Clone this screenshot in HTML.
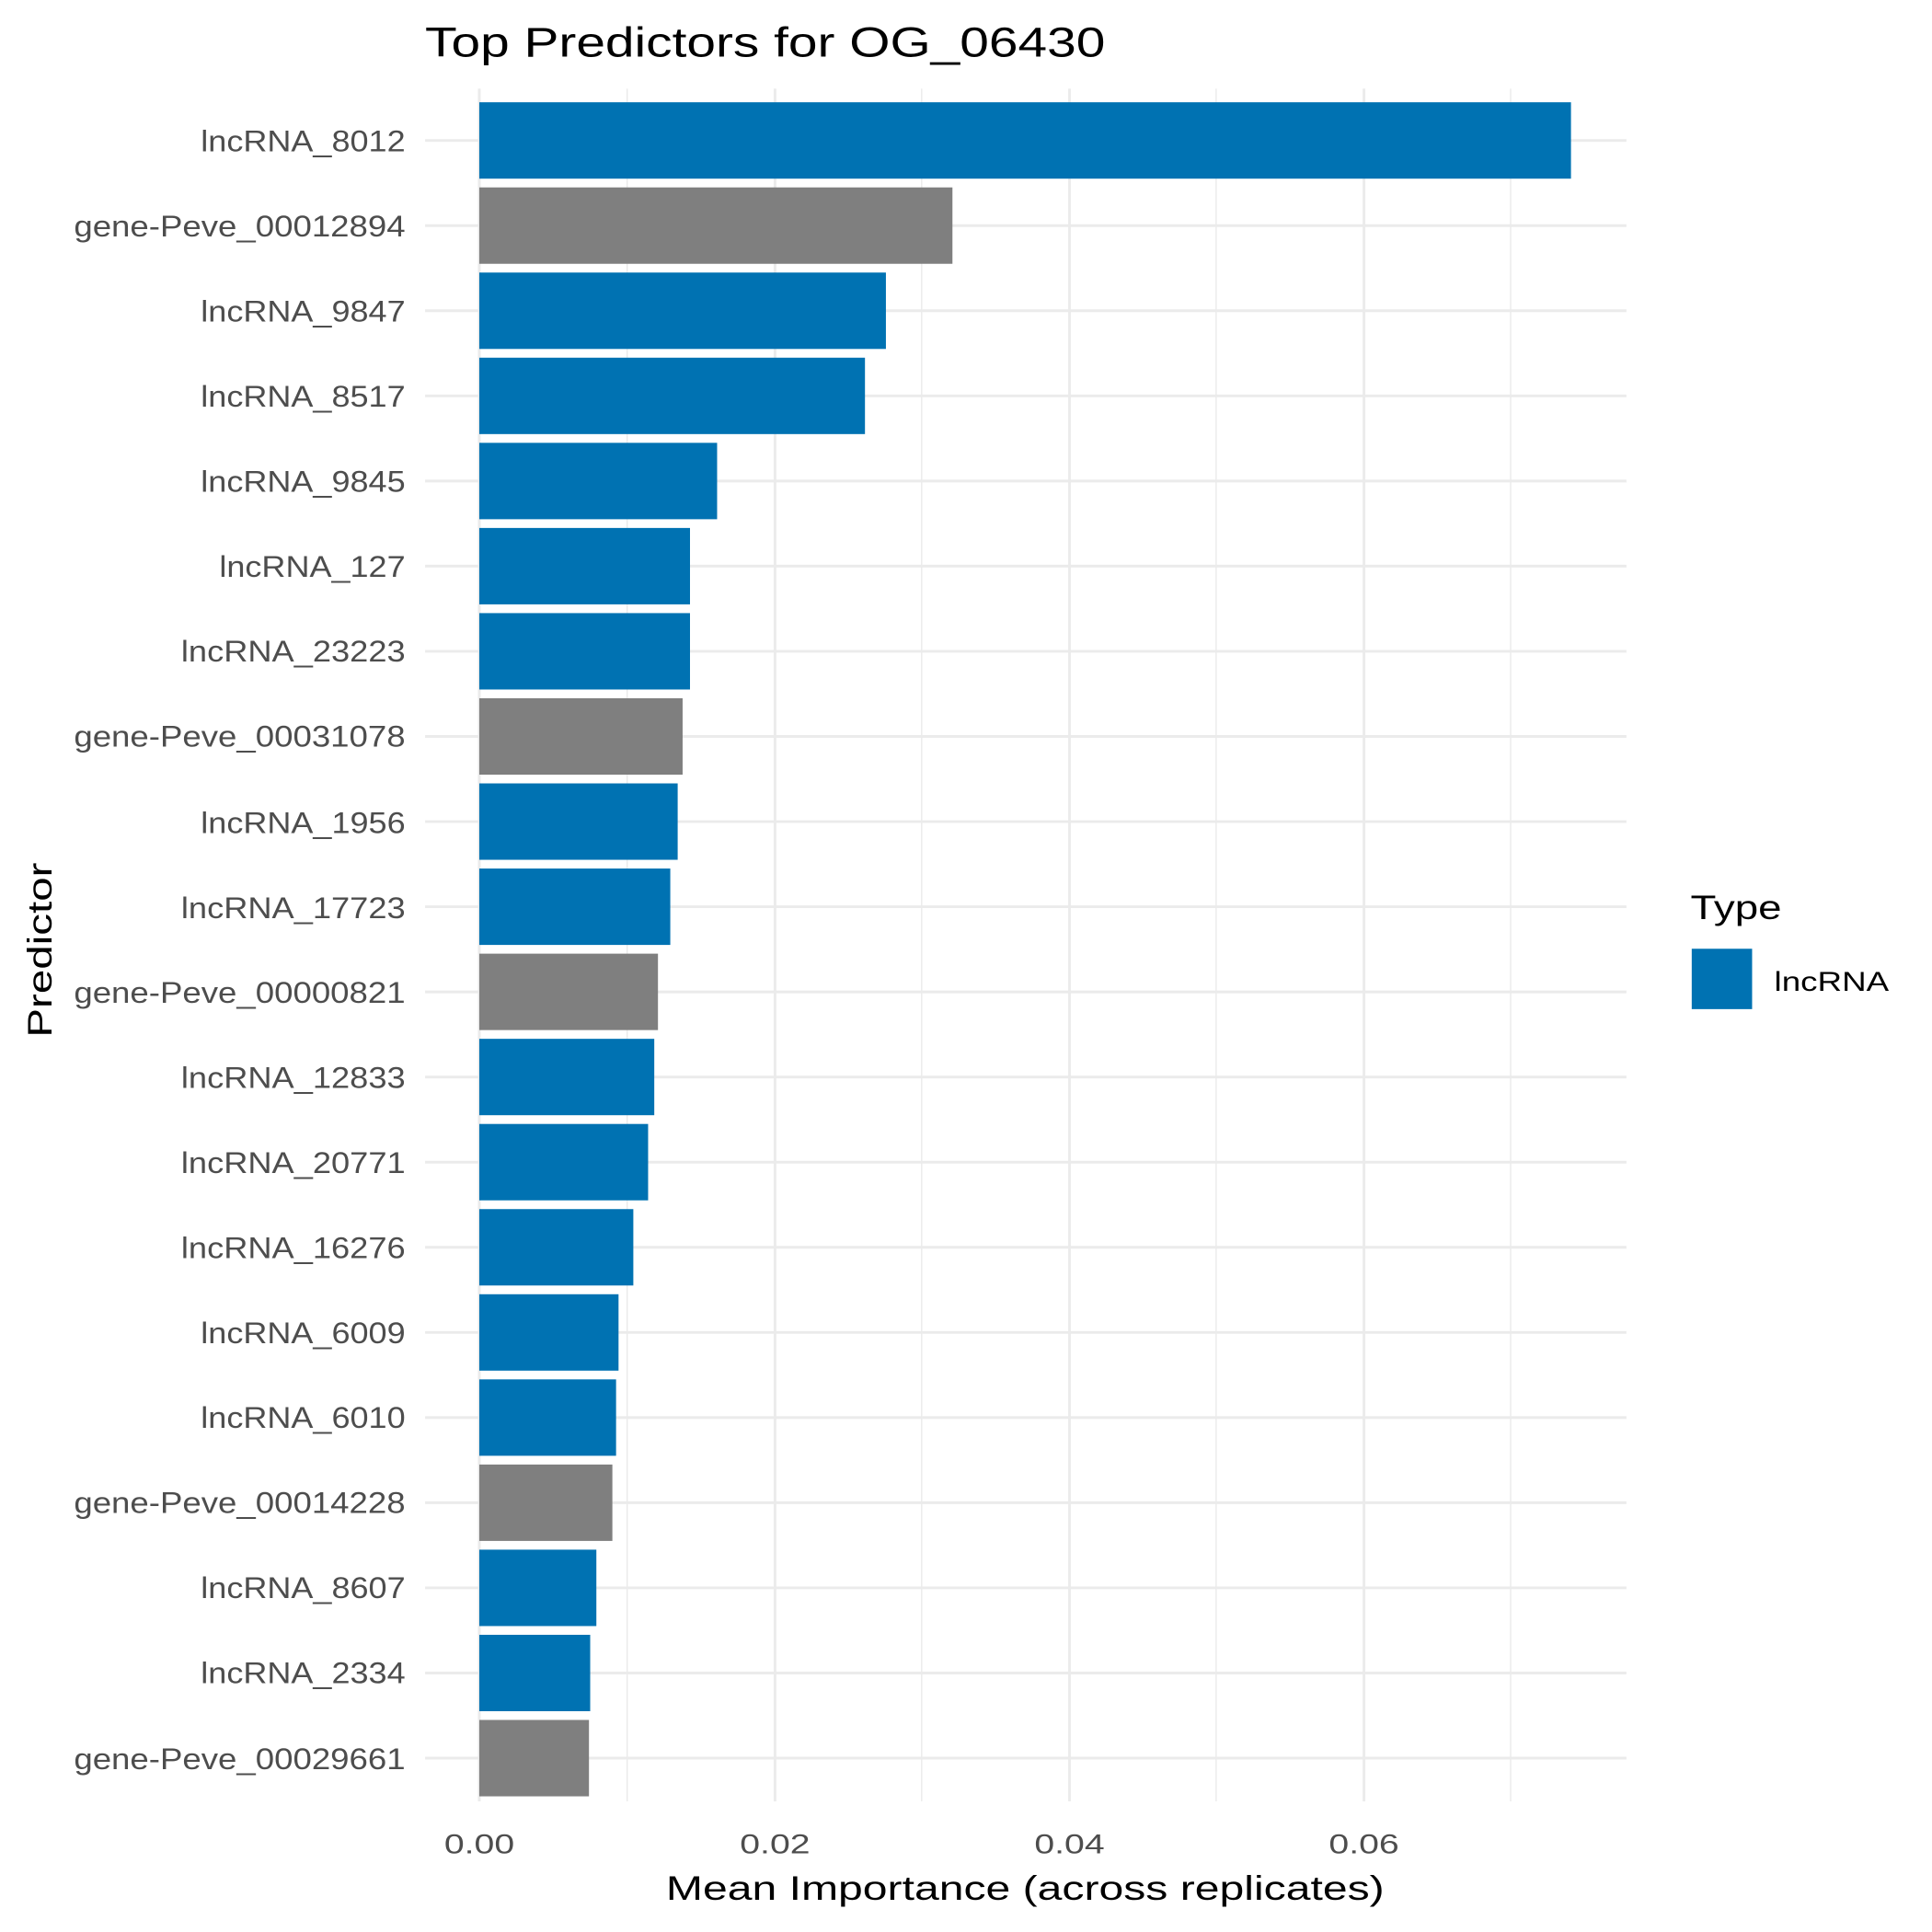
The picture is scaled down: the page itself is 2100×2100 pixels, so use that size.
<!DOCTYPE html>
<html><head><style>html,body{margin:0;padding:0;background:#fff}svg{display:block}</style></head>
<body>
<svg width="2100" height="2100" viewBox="0 0 1568 1568" xmlns="http://www.w3.org/2000/svg" font-family="'Liberation Sans', 'DejaVu Sans', sans-serif">
<rect width="1568" height="1568" fill="#fff"/>
<g stroke="#ebebeb" stroke-width="1.1">
<line x1="509" y1="72" x2="509" y2="1462"/><line x1="748" y1="72" x2="748" y2="1462"/><line x1="987" y1="72" x2="987" y2="1462"/><line x1="1226" y1="72" x2="1226" y2="1462"/>
</g>
<g stroke="#ebebeb" stroke-width="2.2">
<line x1="389" y1="72" x2="389" y2="1462"/><line x1="629" y1="72" x2="629" y2="1462"/><line x1="868" y1="72" x2="868" y2="1462"/><line x1="1107" y1="72" x2="1107" y2="1462"/>
<line x1="345" x2="1320" y1="114" y2="114"/><line x1="345" x2="1320" y1="183.1" y2="183.1"/><line x1="345" x2="1320" y1="252.2" y2="252.2"/><line x1="345" x2="1320" y1="321.3" y2="321.3"/><line x1="345" x2="1320" y1="390.4" y2="390.4"/><line x1="345" x2="1320" y1="459.5" y2="459.5"/><line x1="345" x2="1320" y1="528.6" y2="528.6"/><line x1="345" x2="1320" y1="597.7" y2="597.7"/><line x1="345" x2="1320" y1="666.8" y2="666.8"/><line x1="345" x2="1320" y1="735.9" y2="735.9"/><line x1="345" x2="1320" y1="805" y2="805"/><line x1="345" x2="1320" y1="874.1" y2="874.1"/><line x1="345" x2="1320" y1="943.2" y2="943.2"/><line x1="345" x2="1320" y1="1012.3" y2="1012.3"/><line x1="345" x2="1320" y1="1081.4" y2="1081.4"/><line x1="345" x2="1320" y1="1150.5" y2="1150.5"/><line x1="345" x2="1320" y1="1219.6" y2="1219.6"/><line x1="345" x2="1320" y1="1288.7" y2="1288.7"/><line x1="345" x2="1320" y1="1357.8" y2="1357.8"/><line x1="345" x2="1320" y1="1426.9" y2="1426.9"/>
</g>
<g fill="#0072b2">
<rect x="389" y="83" width="886" height="62"/>
<rect x="389" y="221.2" width="330" height="62"/>
<rect x="389" y="290.3" width="313" height="62"/>
<rect x="389" y="359.4" width="193" height="62"/>
<rect x="389" y="428.5" width="171" height="62"/>
<rect x="389" y="497.6" width="171" height="62"/>
<rect x="389" y="635.8" width="161" height="62"/>
<rect x="389" y="704.9" width="155" height="62"/>
<rect x="389" y="843.1" width="142" height="62"/>
<rect x="389" y="912.2" width="137" height="62"/>
<rect x="389" y="981.3" width="125" height="62"/>
<rect x="389" y="1050.4" width="113" height="62"/>
<rect x="389" y="1119.5" width="111" height="62"/>
<rect x="389" y="1257.7" width="95" height="62"/>
<rect x="389" y="1326.8" width="90" height="62"/>
</g>
<g fill="#7f7f7f">
<rect x="389" y="152.1" width="384" height="62"/>
<rect x="389" y="566.7" width="165" height="62"/>
<rect x="389" y="774" width="145" height="62"/>
<rect x="389" y="1188.6" width="108" height="62"/>
<rect x="389" y="1395.9" width="89" height="62"/>
</g>
<g font-size="24" fill="#4d4d4d" text-anchor="end">
<text x="329" y="123" textLength="166" lengthAdjust="spacingAndGlyphs">lncRNA_8012</text>
<text x="329" y="192" textLength="269" lengthAdjust="spacingAndGlyphs">gene-Peve_00012894</text>
<text x="329" y="261" textLength="166" lengthAdjust="spacingAndGlyphs">lncRNA_9847</text>
<text x="329" y="330" textLength="166" lengthAdjust="spacingAndGlyphs">lncRNA_8517</text>
<text x="329" y="399" textLength="166" lengthAdjust="spacingAndGlyphs">lncRNA_9845</text>
<text x="329" y="468" textLength="151" lengthAdjust="spacingAndGlyphs">lncRNA_127</text>
<text x="329" y="537" textLength="182" lengthAdjust="spacingAndGlyphs">lncRNA_23223</text>
<text x="329" y="606" textLength="269" lengthAdjust="spacingAndGlyphs">gene-Peve_00031078</text>
<text x="329" y="676" textLength="166" lengthAdjust="spacingAndGlyphs">lncRNA_1956</text>
<text x="329" y="745" textLength="182" lengthAdjust="spacingAndGlyphs">lncRNA_17723</text>
<text x="329" y="814" textLength="269" lengthAdjust="spacingAndGlyphs">gene-Peve_00000821</text>
<text x="329" y="883" textLength="182" lengthAdjust="spacingAndGlyphs">lncRNA_12833</text>
<text x="329" y="952" textLength="182" lengthAdjust="spacingAndGlyphs">lncRNA_20771</text>
<text x="329" y="1021" textLength="182" lengthAdjust="spacingAndGlyphs">lncRNA_16276</text>
<text x="329" y="1090" textLength="166" lengthAdjust="spacingAndGlyphs">lncRNA_6009</text>
<text x="329" y="1159" textLength="166" lengthAdjust="spacingAndGlyphs">lncRNA_6010</text>
<text x="329" y="1228" textLength="269" lengthAdjust="spacingAndGlyphs">gene-Peve_00014228</text>
<text x="329" y="1297" textLength="166" lengthAdjust="spacingAndGlyphs">lncRNA_8607</text>
<text x="329" y="1366" textLength="166" lengthAdjust="spacingAndGlyphs">lncRNA_2334</text>
<text x="329" y="1436" textLength="269" lengthAdjust="spacingAndGlyphs">gene-Peve_00029661</text>
</g>
<g font-size="22" fill="#4d4d4d" text-anchor="middle">
<text x="389" y="1504" textLength="57" lengthAdjust="spacingAndGlyphs">0.00</text><text x="629" y="1504" textLength="57" lengthAdjust="spacingAndGlyphs">0.02</text><text x="868" y="1504" textLength="57" lengthAdjust="spacingAndGlyphs">0.04</text><text x="1107" y="1504" textLength="57" lengthAdjust="spacingAndGlyphs">0.06</text>
</g>
<text x="832" y="1542" font-size="28" text-anchor="middle" fill="#000" textLength="583" lengthAdjust="spacingAndGlyphs">Mean Importance (across replicates)</text>
<text x="42" y="771" font-size="28" text-anchor="middle" fill="#000" transform="rotate(-90 42 771)" textLength="142" lengthAdjust="spacingAndGlyphs">Predictor</text>
<text x="345" y="46" font-size="34" fill="#000" textLength="552" lengthAdjust="spacingAndGlyphs">Top Predictors for OG_06430</text>
<text x="1372" y="746" font-size="28" fill="#000" textLength="74" lengthAdjust="spacingAndGlyphs">Type</text>
<rect x="1373" y="770" width="49" height="49" fill="#0072b2"/>
<text x="1440" y="804" font-size="22" fill="#000" textLength="93" lengthAdjust="spacingAndGlyphs">lncRNA</text>
</svg>
</body></html>
